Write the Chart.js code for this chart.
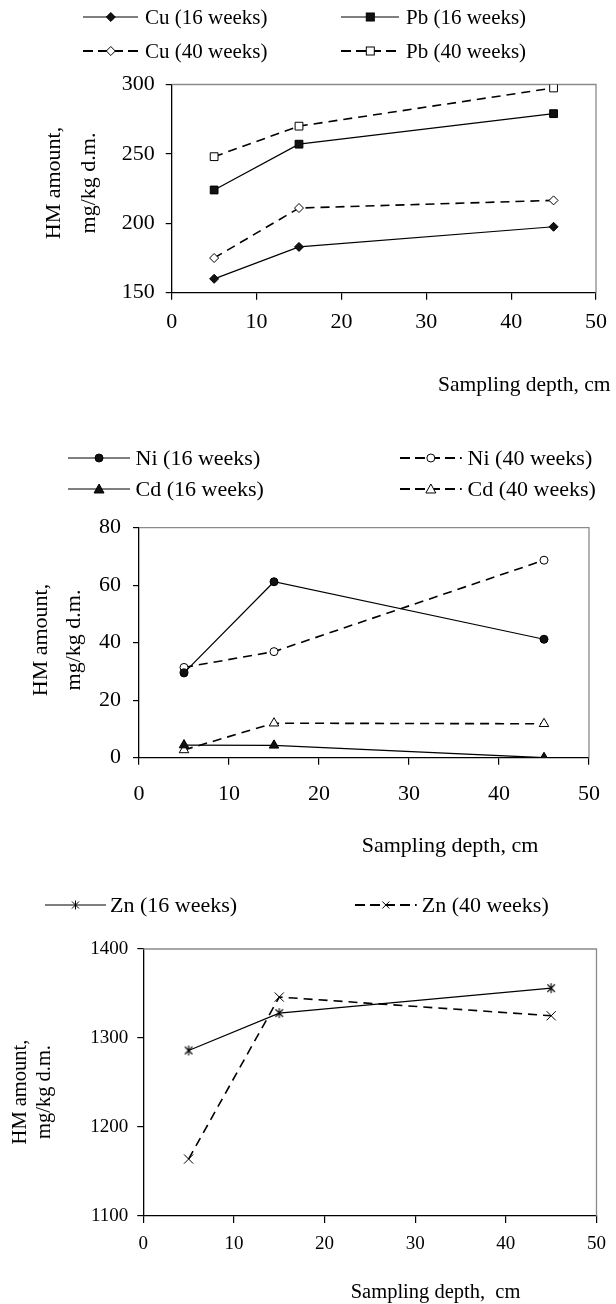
<!DOCTYPE html>
<html>
<head>
<meta charset="utf-8">
<script src="https://cdn.jsdelivr.net/npm/chart.js@4.4.1/dist/chart.umd.min.js"></script>
<style>
  body { margin: 0; background: #fff; }
  #page { position: relative; width: 616px; height: 1304px; overflow: hidden;
          font-family: "Liberation Serif", "Times New Roman", serif; color: #000; }
  canvas { position: absolute; left: 0; }
  .lab { position: absolute; white-space: pre; line-height: 1; }
  .ytl { position: absolute; white-space: pre; line-height: 1;
         transform: translate(-50%, -50%) rotate(-90deg); }
  .leg { position: absolute; display: flex; align-items: center; white-space: pre; line-height: 1; }
  .leg svg { display: block; }
</style>
</head>
<body>
<div id="page">
  <canvas id="c1" width="616" height="420" style="top:0px"></canvas>
  <canvas id="c2" width="616" height="440" style="top:420px"></canvas>
  <canvas id="c3" width="616" height="444" style="top:860px"></canvas>
</div>
<script>
// sampling depth (cm)
const depth = [5, 15, 45];
const xTicks = [0, 10, 20, 30, 40, 50];

// HM amount, mg/kg d.m.
const cu16 = [160, 183, 197.5];
const cu40 = [175, 211, 216.5];
const pb16 = [224, 257, 279];
const pb40 = [248, 270, 297.5];
const yTicks1 = [150, 200, 250, 300];

const ni16 = [29.5, 61.2, 41.2];
const ni40 = [31.4, 36.9, 68.7];
const cd16 = [4.4, 4.3, 0];
const cd40 = [2.7, 12, 11.8];
const yTicks2 = [0, 20, 40, 60, 80];

const zn16 = [1286, 1328, 1356];
const zn40 = [1164, 1346, 1325];
const yTicks3 = [1100, 1200, 1300, 1400];

const yTitle = ['HM amount,', 'mg/kg d.m.'];

const page = document.getElementById('page');

function pts(vals) {
  return depth.map((d, i) => ({ x: d, y: vals[i] }));
}

// X with a vertical bar, like the Zn (16 weeks) marker
function asterisk(size) {
  const cv = document.createElement('canvas');
  cv.width = size; cv.height = size;
  const c = cv.getContext('2d');
  const m = size / 2, r = size / 2 - 1;
  c.strokeStyle = '#000';
  c.lineWidth = 1.1;
  c.beginPath();
  c.moveTo(m - r * 0.75, m - r * 0.75); c.lineTo(m + r * 0.75, m + r * 0.75);
  c.moveTo(m + r * 0.75, m - r * 0.75); c.lineTo(m - r * 0.75, m + r * 0.75);
  c.moveTo(m, m - r); c.lineTo(m, m + r);
  c.stroke();
  return cv;
}

// line + marker look of one series
function series(label, vals, dashed, style, filled, r) {
  return {
    label: label,
    data: pts(vals),
    borderColor: '#000',
    borderWidth: dashed ? 1.6 : 1.2,
    borderDash: dashed ? [9, 6] : [],
    pointStyle: style,
    pointRadius: r,
    pointHoverRadius: r,
    pointBackgroundColor: filled ? '#111' : '#fff',
    pointBorderColor: '#000',
    pointBorderWidth: 1,
    fill: false,
    tension: 0
  };
}

const frame = {
  id: 'frame',
  beforeDatasetsDraw(chart) {
    const a = chart.chartArea, c = chart.ctx;
    c.save();
    c.strokeStyle = '#8a8a8a';
    c.lineWidth = 1.3;
    c.beginPath();
    c.moveTo(a.left, a.top);
    c.lineTo(a.right, a.top);
    c.lineTo(a.right, a.bottom);
    c.stroke();
    c.restore();
  }
};

function makeChart(id, datasets, yTicks, g) {
  const font = { family: '"Liberation Serif", "Times New Roman", serif', size: g.font };
  return new Chart(document.getElementById(id).getContext('2d'), {
    type: 'line',
    data: { datasets: datasets },
    options: {
      responsive: false,
      animation: false,
      devicePixelRatio: 1,
      layout: { padding: { left: 0, top: g.top, right: 616 - g.right, bottom: 0 } },
      plugins: { legend: { display: false }, tooltip: { enabled: false } },
      scales: {
        x: {
          type: 'linear',
          min: xTicks[0], max: xTicks[xTicks.length - 1],
          afterBuildTicks: s => { s.ticks = xTicks.map(v => ({ value: v })); },
          afterFit: s => { s.height = g.h - g.bottom; },
          grid: { display: true, drawOnChartArea: false, drawTicks: true, tickLength: 7, color: '#000', lineWidth: 1.2 },
          border: { display: true, color: '#000', width: 1.3 },
          ticks: { color: '#000', font: font, padding: g.xPad, maxRotation: 0, callback: v => String(v) }
        },
        y: {
          type: 'linear',
          min: yTicks[0], max: yTicks[yTicks.length - 1],
          afterBuildTicks: s => { s.ticks = yTicks.map(v => ({ value: v })); },
          afterFit: s => { s.width = g.left; },
          grid: { display: true, drawOnChartArea: false, drawTicks: true, tickLength: 6, color: '#000', lineWidth: 1.2 },
          border: { display: true, color: '#000', width: 1.3 },
          ticks: { color: '#000', font: font, padding: g.yPad, callback: v => String(v) }
        }
      }
    },
    plugins: [frame]
  });
}

// ---- legend samples (svg) ----
function marker(style, filled, cx, cy) {
  const f = filled ? '#111' : '#fff';
  if (style === 'rectRot') return `<polygon points="${cx},${cy-4.5} ${cx+4.5},${cy} ${cx},${cy+4.5} ${cx-4.5},${cy}" fill="${f}" stroke="#000" stroke-width="1"/>`;
  if (style === 'rect') return `<rect x="${cx-4}" y="${cy-4}" width="8" height="8" fill="${f}" stroke="#000" stroke-width="1"/>`;
  if (style === 'circle') return `<circle cx="${cx}" cy="${cy}" r="4" fill="${f}" stroke="#000" stroke-width="1"/>`;
  if (style === 'triangle') return `<polygon points="${cx},${cy-5} ${cx+5},${cy+4} ${cx-5},${cy+4}" fill="${f}" stroke="#000" stroke-width="1"/>`;
  if (style === 'star') return `<path d="M${cx-3.5},${cy-3.5}L${cx+3.5},${cy+3.5}M${cx+3.5},${cy-3.5}L${cx-3.5},${cy+3.5}M${cx},${cy-4.5}L${cx},${cy+4.5}" stroke="#000" stroke-width="1"/>`;
  return `<path d="M${cx-3.5},${cy-3.5}L${cx+3.5},${cy+3.5}M${cx+3.5},${cy-3.5}L${cx-3.5},${cy+3.5}" stroke="#000" stroke-width="1"/>`;
}

function legendItem(text, x0, x1, tx, y, size, dashed, style, filled) {
  const w = x1 - x0;
  const dash = dashed ? ' stroke-dasharray="10,5"' : '';
  const svg = `<svg width="${w}" height="16" viewBox="0 0 ${w} 16">` +
    `<line x1="0" y1="8" x2="${w}" y2="8" stroke="#000" stroke-width="${dashed ? 1.8 : 1.2}"${dash}/>` +
    marker(style, filled, w / 2, 8) + '</svg>';
  const d = document.createElement('div');
  d.className = 'leg';
  d.style.left = x0 + 'px';
  d.style.top = (y - 8) + 'px';
  d.style.height = '16px';
  d.style.fontSize = size + 'px';
  d.innerHTML = svg + `<span style="margin-left:${tx - x1}px">${text}</span>`;
  page.appendChild(d);
}

function label(text, left, cy, size) {
  const d = document.createElement('div');
  d.className = 'lab';
  d.style.left = left + 'px';
  d.style.top = (cy - size / 2) + 'px';
  d.style.fontSize = size + 'px';
  d.textContent = text;
  page.appendChild(d);
}

function yTitleLines(xs, cy, size) {
  yTitle.forEach((t, i) => {
    const d = document.createElement('div');
    d.className = 'ytl';
    d.style.left = xs[i] + 'px';
    d.style.top = cy + 'px';
    d.style.fontSize = size + 'px';
    d.textContent = t;
    page.appendChild(d);
  });
}

// ---- chart 1: Cu, Pb ----
makeChart('c1', [
  series('Cu (16 weeks)', cu16, false, 'rectRot', true, 4.5),
  series('Pb (16 weeks)', pb16, false, 'rect', true, 5.5),
  series('Cu (40 weeks)', cu40, true, 'rectRot', false, 4.5),
  series('Pb (40 weeks)', pb40, true, 'rect', false, 5.5)
], yTicks1, { h: 420, top: 84.5, bottom: 292.7, left: 171.7, right: 596.7, font: 22, xPad: 9, yPad: 11 });

legendItem('Cu (16 weeks)', 82.7, 138.3, 145, 17, 21, false, 'rectRot', true);
legendItem('Pb (16 weeks)', 340.7, 399.3, 406, 17, 21, false, 'rect', true);
legendItem('Cu (40 weeks)', 82.7, 138.3, 145, 51, 21, true, 'rectRot', false);
legendItem('Pb (40 weeks)', 340.7, 399.3, 406, 51, 21, true, 'rect', false);
yTitleLines([53, 88], 183, 22);
label('Sampling depth, cm', 438, 385, 21.5);

// ---- chart 2: Ni, Cd ----
makeChart('c2', [
  series('Ni (16 weeks)', ni16, false, 'circle', true, 4),
  series('Ni (40 weeks)', ni40, true, 'circle', false, 4),
  series('Cd (16 weeks)', cd16, false, 'triangle', true, 5.5),
  series('Cd (40 weeks)', cd40, true, 'triangle', false, 5.5)
], yTicks2, { h: 440, top: 107.7, bottom: 337.7, left: 139, right: 602.6, font: 22, xPad: 16, yPad: 12 });

legendItem('Ni (16 weeks)', 67.6, 129.7, 135.6, 458, 22, false, 'circle', true);
legendItem('Ni (40 weeks)', 400, 461.7, 467.6, 458, 22, true, 'circle', false);
legendItem('Cd (16 weeks)', 67.6, 129.7, 135.6, 489, 22, false, 'triangle', true);
legendItem('Cd (40 weeks)', 400, 461.7, 467.6, 489, 22, true, 'triangle', false);
yTitleLines([40, 73], 640, 22);
label('Sampling depth, cm', 361.7, 845, 22);

// ---- chart 3: Zn ----
makeChart('c3', [
  series('Zn (16 weeks)', zn16, false, asterisk(12), false, 6),
  series('Zn (40 weeks)', zn40, true, 'crossRot', false, 6.5)
], yTicks3, { h: 444, top: 89, bottom: 356, left: 143.3, right: 596.7, font: 19, xPad: 10, yPad: 9 });

legendItem('Zn (16 weeks)', 45, 106, 110, 905, 22, false, 'star', false);
legendItem('Zn (40 weeks)', 355, 416.7, 421.7, 905, 22, true, 'crossRot', false);
yTitleLines([19, 43], 1092, 20.5);
label('Sampling depth,  cm', 350.7, 1291.7, 20.5);
</script>
</body>
</html>
